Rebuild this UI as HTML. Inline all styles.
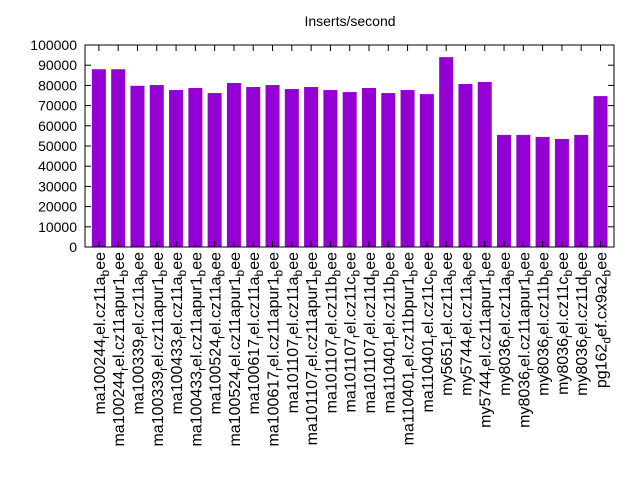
<!DOCTYPE html>
<html><head><meta charset="utf-8"><style>body{margin:0;background:#fff}svg{display:block;font-family:"Liberation Sans",sans-serif}</style></head>
<body>
<svg id="chart" width="640" height="480" xmlns="http://www.w3.org/2000/svg">
<text x="350" y="26" font-size="14" text-anchor="middle">Inserts/second</text>
<g id="bars"></g><g id="axes"></g>
</svg>
<script>
const hosts=["ma100244","ma100244","ma100339","ma100339","ma100433","ma100433","ma100524","ma100524","ma100617","ma100617","ma101107","ma101107","ma101107","ma101107","ma101107","ma110401","ma110401","ma110401","my5651","my5744","my5744","my8036","my8036","my8036","my8036","my8036","pg162"];
const subs1=["r","r","r","r","r","r","r","r","r","r","r","r","r","r","r","r","r","r","r","r","r","r","r","r","r","r","d"];
const mids=["el.cz11a","el.cz11apur1","el.cz11a","el.cz11apur1","el.cz11a","el.cz11apur1","el.cz11a","el.cz11apur1","el.cz11a","el.cz11apur1","el.cz11a","el.cz11apur1","el.cz11b","el.cz11c","el.cz11d","el.cz11b","el.cz11bpur1","el.cz11c","el.cz11a","el.cz11a","el.cz11apur1","el.cz11a","el.cz11apur1","el.cz11b","el.cz11c","el.cz11d","ef.cx9a2"];
const values=[88000,88000,79800,80200,77700,78700,76200,81200,79200,80200,78200,79200,77700,76700,78700,76200,77700,75700,94000,80700,81700,55500,55500,54500,53500,55500,74700];
const yTicks=[0,10000,20000,30000,40000,50000,60000,70000,80000,90000,100000];
const NS="http://www.w3.org/2000/svg";
const L=85,R=614,T=45,B=247;
const xmin=-0.72,xmax=26.7;
const x=i=>L+(i-xmin)/(xmax-xmin)*(R-L);
const y=v=>B-v/100000*(B-T);
const bars=document.getElementById('bars'),axes=document.getElementById('axes');
function mk(t,a,p){const e=document.createElementNS(NS,t);for(const k in a)e.setAttribute(k,a[k]);p.appendChild(e);return e;}
values.forEach((v,i)=>{
 const r=mk('rect',{x:x(i)-7,y:y(v),width:14,height:B-y(v),fill:'#9400d3'},bars);
 
 
});
const fr=mk('rect',{x:L,y:T,width:R-L,height:B-T,fill:'none',stroke:'#000','stroke-width':1},axes);


yTicks.forEach(t=>{
 mk('line',{x1:L,x2:L+6,y1:y(t),y2:y(t),stroke:'#000'},axes);
 mk('line',{x1:R,x2:R-6,y1:y(t),y2:y(t),stroke:'#000'},axes);
 const tx=mk('text',{x:77,y:y(t)+5,'font-size':14,'text-anchor':'end'},axes);
 tx.textContent=t;
 
 
});
hosts.forEach((h,i)=>{
 const cx=x(i);
 mk('line',{x1:cx,x2:cx,y1:B,y2:B-6,stroke:'#000'},axes);
 mk('line',{x1:cx,x2:cx,y1:T,y2:T+6,stroke:'#000'},axes);
 const t=mk('text',{transform:`translate(${cx+6},252) rotate(-90)`,'font-size':16,'text-anchor':'end'},axes);
 
 
 const parts=[[h,0,0],[subs1[i],1,4],[mids[i],0,-4],['b',1,4],['ee',0,-4]];
 parts.forEach(([s,sub,dy])=>{
  const sp=mk('tspan',{'font-size':sub?12:16,dy:dy},t);
  sp.textContent=s;
 });
});
</script>
</body></html>
